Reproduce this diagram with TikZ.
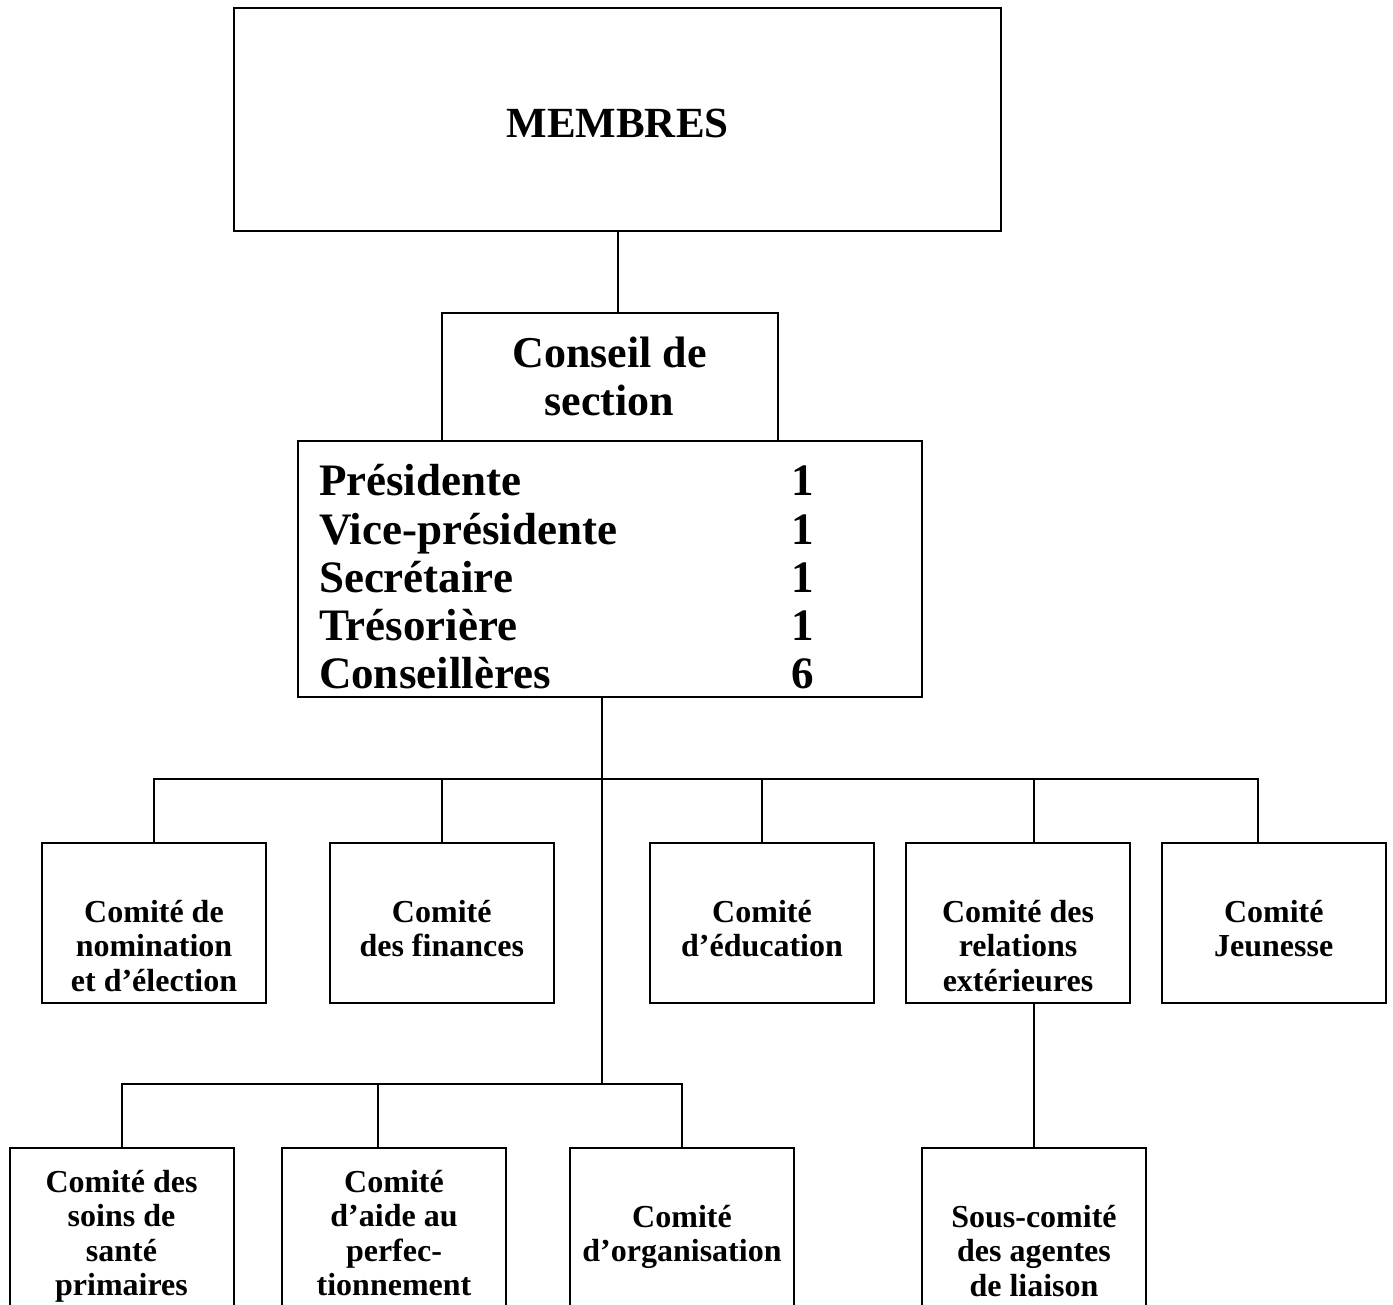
\documentclass[tikz,border=0pt]{standalone}
\usepackage{fontspec}
\setmainfont{Liberation Serif}
\begin{document}
\begin{tikzpicture}[x=1pt, y=-1pt, line width=2pt, line join=miter,
	boite/.style={draw, rectangle, inner sep=0pt, minimum width=224pt},
	comite/.style={align=center, inner sep=0pt, anchor=base, font=\bfseries\fontsize{32}{34.5}\selectfont},
	poste/.style={inner sep=0pt, anchor=base west, font=\bfseries\fontsize{45}{48}\selectfont}]
	%%%%%%%%%%%%%%%%%%%%%%%%%%%%%%%%%
	\useasboundingbox (0,0) rectangle (1393,1305);
	\clip (0,0) rectangle (1393,1305);
	%%%%%%%%%%%%%%%%%%%%%%%%%%%%%%%%%
	\coordinate (t1) at (602,779);
	\coordinate (t2) at (602,1084);
	\coordinate (dJeu) at (1258,843);
	\coordinate (dAide) at (378,1148);
	%%%%%%%%%%%%%%%%%%%%%%%%%%%%%%%%%
	\node[boite, minimum width=767pt, minimum height=223.5pt] (membres) at (617.5,119.75) {};
	\node[boite, minimum width=336pt, minimum height=128pt] (conseil) at (609.5,377) {};
	\node[boite, minimum width=623.5pt, minimum height=255.5pt] (bureau) at (609.75,568.75) {};
	\node[anchor=base, inner sep=0pt, font=\bfseries\fontsize{43}{48}\selectfont] (membresT) at (617.5,138) {MEMBRES};
	\node[anchor=base, inner sep=0pt, align=center, font=\bfseries\fontsize{44}{48}\selectfont] (conseilT) at (609.5,416) {Conseil de\\section};
	\begin{scope}
		\clip (bureau.north west) rectangle ([yshift=9.5pt]bureau.south east);
		\foreach \titre/\nb [count=\i from 0] in {Présidente/1, Vice-présidente/1, Secrétaire/1, Trésorière/1, Conseillères/6}{
			\node[poste] (poste\i) at (318,496+48*\i) {\titre};
			\node[poste] (nb\i) at (790,496+48*\i) {\nb};
		}
	\end{scope}
	%%%%%%%%%%%%%%%%%%%%%%%%%%%%%%%%%
	\node[boite, minimum height=160pt] (nom) at (154,923) {};
	\node[boite, minimum height=160pt] (fin) at (441.75,923) {};
	\node[boite, minimum height=160pt] (edu) at (762,923) {};
	\node[boite, minimum height=160pt] (rel) at (1018,923) {};
	\node[boite, minimum height=160pt] (jeu) at (1273.75,923) {};
	\node[comite] (nomT) at (154,991) {Comité de\\nomination\\et d’élection};
	\node[comite] (finT) at (441.75,956.5) {Comité\\des finances};
	\node[comite] (eduT) at (762,956.5) {Comité\\d’éducation};
	\node[comite] (relT) at (1018,991) {Comité des\\relations\\extérieures};
	\node[comite] (jeuT) at (1273.75,956.5) {Comité\\Jeunesse};
	%%%%%%%%%%%%%%%%%%%%%%%%%%%%%%%%%
	\node[boite, minimum height=182pt] (soins) at (121.5,1239) {};
	\node[boite, minimum height=182pt] (aide) at (394,1239) {};
	\node[boite, minimum height=182pt] (org) at (682,1239) {};
	\node[boite, minimum height=182pt] (sous) at (1034,1239) {};
	\node[comite] (soinsT) at (121.5,1295.5) {Comité des\\soins de\\santé\\primaires};
	\node[comite] (aideT) at (394,1295.5) {Comité\\d’aide au\\perfec-\\tionnement};
	\node[comite] (orgT) at (682,1261.5) {Comité\\d’organisation};
	\node[comite] (sousT) at (1034,1296) {Sous-comité\\des agentes\\de liaison};
	%%%%%%%%%%%%%%%%%%%%%%%%%%%%%%%%%
	\draw (membres.south) -- (membres.south |- conseil.north);
	\draw (bureau.south -| t1) -- (t2);
	\draw (nom.north) -- (nom.north |- t1) -- (dJeu |- t1) -- (dJeu);
	\draw (fin.north) -- (fin.north |- t1);
	\draw (edu.north) -- (edu.north |- t1);
	\draw (sous.north |- t1) -- (sous.north |- rel.north);
	\draw (rel.south -| sous.north) -- (sous.north);
	\draw (soins.north) -- (soins.north |- t2) -- (org.north |- t2) -- (org.north);
	\draw (dAide |- t2) -- (dAide);
	%%%%%%%%%%%%%%%%%%%%%%%%%%%%%%%%%
\end{tikzpicture}
\end{document}
